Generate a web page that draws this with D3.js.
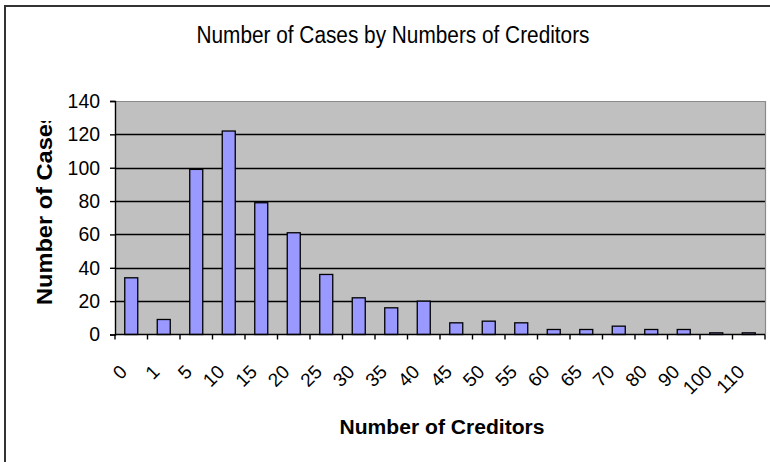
<!DOCTYPE html>
<html><head><meta charset="utf-8">
<script src="https://cdn.jsdelivr.net/npm/d3@7"></script>
<style>body{margin:0;background:#fff}svg{display:block}</style>
</head><body>
<svg id="c" width="770" height="462"></svg>
<script>
const categories = ["0","1","5","10","15","20","25","30","35","40","45","50","55","60","65","70","80","90","100","110"];
const cases = [34,9,99,122,79,61,36,22,16,20,7,8,7,3,3,5,3,3,1,1];
const yTicks = [0,20,40,60,80,100,120,140];
const title = "Number of Cases by Numbers of Creditors";
const xTitle = "Number of Creditors";
const yTitle = "Number of Cases";

const svg = d3.select("#c");
const L = 115, R = 765, T = 101, B = 334.5;
const FONT = "Liberation Sans, Arial, sans-serif";

// outer border
svg.append("path").attr("d","M5,470 V6 H775").attr("fill","none").attr("stroke","#333").attr("stroke-width",2);

const x = d3.scaleBand().domain(categories).range([L,R]).paddingInner(0.6).paddingOuter(0.3);
const xb = d3.scaleBand().domain(categories).range([L,R]);
const y = d3.scaleLinear().domain([0,140]).range([B,T]);

// plot area
svg.append("rect").attr("x",L).attr("y",T).attr("width",R-L).attr("height",B-T).attr("fill","#c0c0c0");
// gridlines
svg.append("g").selectAll("line").data(yTicks.filter(d=>d>0&&d<140)).join("line")
  .attr("x1",L).attr("x2",R).attr("y1",d=>Math.round(y(d))+0.5).attr("y2",d=>Math.round(y(d))+0.5)
  .attr("stroke","#000").attr("stroke-width",1.4);
// top/right border gray
svg.append("path").attr("d",`M${L},${T+0.5} H${R+0.5} V${B}`).attr("fill","none").attr("stroke","#8a8a8a").attr("stroke-width",1.2);

// bars
svg.append("g").selectAll("rect").data(cases).join("rect")
  .attr("x",(d,i)=>x(categories[i]))
  .attr("width",x.bandwidth())
  .attr("y",d=>y(d))
  .attr("height",d=>B-y(d))
  .attr("fill","#9999ff").attr("stroke","#000").attr("stroke-width",1.3);

// y axis
const ya = svg.append("g").attr("transform",`translate(${L},0)`)
  .call(d3.axisLeft(y).tickValues(yTicks).tickSize(5).tickPadding(10));
ya.select(".domain").attr("stroke","#000").attr("stroke-width",1.4);
ya.selectAll(".tick line").attr("stroke","#000").attr("stroke-width",1.4);
ya.selectAll("text").attr("font-family",FONT).attr("font-size",20).attr("fill","#000")
  .attr("textLength",d=>String(d).length*10.8).attr("lengthAdjust","spacingAndGlyphs");

// x axis line and ticks (between categories)
svg.append("line").attr("x1",L).attr("x2",R).attr("y1",B).attr("y2",B).attr("stroke","#000").attr("stroke-width",1.4);
const tickPos = categories.map(c=>xb(c)).concat([R]);
svg.append("g").selectAll("line").data(tickPos).join("line")
  .attr("x1",d=>d).attr("x2",d=>d).attr("y1",B).attr("y2",B+5).attr("stroke","#000").attr("stroke-width",1.4);

// x labels rotated
svg.append("g").selectAll("text").data(categories).join("text")
  .attr("transform",c=>`translate(${xb(c)+xb.bandwidth()/2-3},${373}) rotate(-45)`)
  .attr("text-anchor","end")
  .attr("font-family",FONT).attr("font-size",19).attr("fill","#000")
  .text(c=>c);

// title
svg.append("text").attr("x",393).attr("y",43).attr("text-anchor","middle")
  .attr("font-family",FONT).attr("font-size",23).attr("fill","#000")
  .attr("textLength",393).attr("lengthAdjust","spacingAndGlyphs").text(title);

// x title
svg.append("text").attr("x",442).attr("y",434).attr("text-anchor","middle")
  .attr("font-family",FONT).attr("font-weight","bold").attr("font-size",20).attr("fill","#000")
  .attr("textLength",205).attr("lengthAdjust","spacingAndGlyphs").text(xTitle);

// y title clipped
svg.append("clipPath").attr("id","yc").append("rect").attr("x",0).attr("y",121).attr("width",100).attr("height",300);
svg.append("g").attr("clip-path","url(#yc)").append("text")
  .attr("transform","translate(52,305) rotate(-90)").attr("text-anchor","start")
  .attr("font-family",FONT).attr("font-weight","bold").attr("font-size",22).attr("fill","#000")
  .attr("textLength",194).attr("lengthAdjust","spacingAndGlyphs").text(yTitle);
</script>
</body></html>
